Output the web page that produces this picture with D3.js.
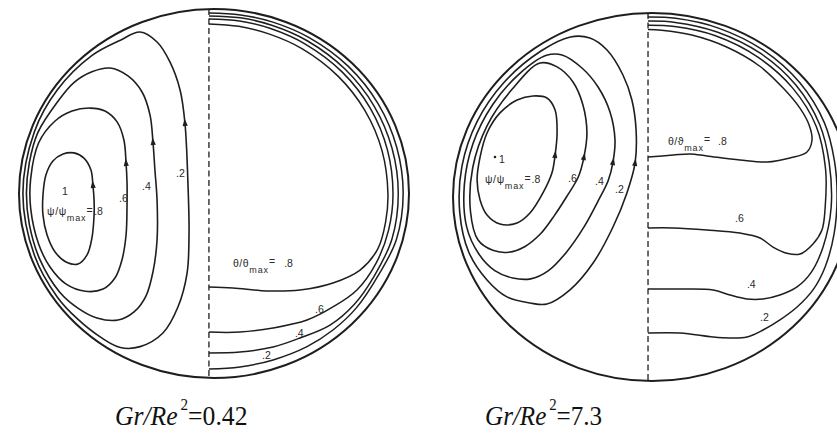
<!DOCTYPE html>
<html>
<head>
<meta charset="utf-8">
<script src="https://cdn.jsdelivr.net/npm/d3@7"></script>
<style>
  html, body { margin: 0; padding: 0; background: #fff; }
  svg { display: block; }
</style>
</head>
<body>
<svg id="chart" width="837" height="441"></svg>
<script>
// Pipe cross-sections, coordinates normalised by the wall radius (x right, y up, wall at r = 1).
// Left half of each section: streamlines psi/psi_max; right half: isotherms theta/theta_max.

const caseValues = ["0.42", "7.3"];
const levelLabels = [".8", ".6", ".4", ".2"];
const symmetryPlane = [-0.026, -0.020];

// ---- Gr/Re² = 0.42 ----
const lowPsi08 = [[-0.621,0.046],[-0.631,0.127],[-0.667,0.192],[-0.718,0.220],[-0.774,0.214],[-0.826,0.176],[-0.862,0.100],[-0.877,-0.008],[-0.877,-0.117],[-0.856,-0.225],[-0.815,-0.317],[-0.759,-0.371],[-0.697,-0.382],[-0.651,-0.333],[-0.626,-0.241],[-0.615,-0.117],[-0.615,-0.035]];
const lowPsi06 = [[-0.451,0.165],[-0.462,0.290],[-0.497,0.388],[-0.559,0.447],[-0.636,0.463],[-0.728,0.447],[-0.815,0.393],[-0.899,0.275],[-0.940,0.082],[-0.940,-0.082],[-0.899,-0.275],[-0.840,-0.400],[-0.760,-0.490],[-0.660,-0.530],[-0.569,-0.518],[-0.508,-0.458],[-0.472,-0.360],[-0.451,-0.225],[-0.446,-0.062],[-0.446,0.057]];
const lowPsi04 = [[-0.313,0.279],[-0.328,0.425],[-0.369,0.550],[-0.441,0.637],[-0.533,0.680],[-0.626,0.660],[-0.720,0.600],[-0.800,0.500],[-0.904,0.329],[-0.947,0.167],[-0.962,0.000],[-0.947,-0.167],[-0.892,-0.360],[-0.792,-0.534],[-0.700,-0.620],[-0.600,-0.675],[-0.492,-0.686],[-0.410,-0.642],[-0.349,-0.556],[-0.313,-0.425],[-0.292,-0.252],[-0.292,-0.035],[-0.303,0.127]];
const lowPsi02 = [[-0.149,0.382],[-0.174,0.561],[-0.226,0.713],[-0.292,0.821],[-0.379,0.875],[-0.480,0.831],[-0.627,0.747],[-0.803,0.562],[-0.921,0.335],[-0.980,0.000],[-0.921,-0.335],[-0.803,-0.562],[-0.700,-0.680],[-0.580,-0.780],[-0.480,-0.835],[-0.379,-0.830],[-0.262,-0.756],[-0.185,-0.615],[-0.138,-0.431],[-0.128,-0.214],[-0.133,0.035]];

const lowTheta08 = [[-0.026,-0.507],[0.097,-0.512],[0.272,-0.528],[0.441,-0.523],[0.610,-0.485],[0.749,-0.415],[0.840,-0.300],[0.880,-0.155],[0.892,0.000],[0.862,0.231],[0.775,0.448],[0.636,0.636],[0.453,0.784],[0.281,0.865],[0.127,0.906],[-0.026,0.919]];
const lowTheta06 = [[-0.026,-0.751],[0.133,-0.751],[0.303,-0.729],[0.477,-0.686],[0.610,-0.615],[0.733,-0.523],[0.830,-0.380],[0.895,-0.200],[0.918,0.000],[0.889,0.238],[0.801,0.463],[0.658,0.658],[0.468,0.810],[0.290,0.894],[0.131,0.935],[-0.026,0.946]];
const lowTheta04 = [[-0.026,-0.864],[0.133,-0.859],[0.303,-0.832],[0.441,-0.783],[0.595,-0.713],[0.720,-0.600],[0.820,-0.450],[0.913,-0.245],[0.945,0.000],[0.913,0.245],[0.821,0.474],[0.673,0.673],[0.478,0.828],[0.296,0.912],[0.134,0.952],[-0.026,0.962]];
const lowTheta02 = [[-0.026,-0.951],[0.133,-0.940],[0.303,-0.902],[0.477,-0.830],[0.610,-0.740],[0.730,-0.620],[0.850,-0.430],[0.935,-0.251],[0.970,0.000],[0.937,0.251],[0.842,0.486],[0.689,0.689],[0.488,0.845],[0.302,0.929],[0.136,0.968],[-0.026,0.978]];

// ---- Gr/Re² = 7.3 ----
const highPsi08 = [[-0.487,0.228],[-0.477,0.348],[-0.487,0.473],[-0.528,0.538],[-0.598,0.549],[-0.678,0.527],[-0.764,0.457],[-0.829,0.348],[-0.864,0.217],[-0.879,0.092],[-0.864,-0.016],[-0.829,-0.098],[-0.764,-0.147],[-0.678,-0.141],[-0.613,-0.087],[-0.548,0.022],[-0.503,0.130]];
const highPsi06 = [[-0.342,0.217],[-0.327,0.348],[-0.347,0.500],[-0.397,0.625],[-0.477,0.707],[-0.563,0.728],[-0.701,0.588],[-0.829,0.387],[-0.901,0.159],[-0.912,-0.080],[-0.874,-0.234],[-0.800,-0.290],[-0.720,-0.300],[-0.640,-0.270],[-0.560,-0.200],[-0.490,-0.100],[-0.430,0.000],[-0.370,0.110]];
const highPsi04 = [[-0.196,0.190],[-0.186,0.310],[-0.211,0.462],[-0.271,0.598],[-0.352,0.701],[-0.452,0.772],[-0.530,0.770],[-0.668,0.668],[-0.801,0.501],[-0.899,0.292],[-0.943,0.066],[-0.931,-0.164],[-0.870,-0.310],[-0.790,-0.400],[-0.700,-0.440],[-0.610,-0.445],[-0.520,-0.400],[-0.430,-0.300],[-0.340,-0.160],[-0.270,-0.020],[-0.220,0.090]];
const highPsi02 = [[-0.085,0.185],[-0.080,0.364],[-0.101,0.527],[-0.146,0.663],[-0.226,0.799],[-0.312,0.864],[-0.410,0.870],[-0.556,0.795],[-0.743,0.624],[-0.879,0.410],[-0.955,0.168],[-0.966,-0.085],[-0.921,-0.299],[-0.829,-0.451],[-0.729,-0.543],[-0.613,-0.576],[-0.528,-0.582],[-0.412,-0.505],[-0.296,-0.359],[-0.196,-0.163],[-0.126,0.022]];

const highTheta08 = [[-0.020,0.217],[0.106,0.228],[0.191,0.234],[0.276,0.223],[0.442,0.201],[0.578,0.190],[0.693,0.212],[0.779,0.245],[0.804,0.310],[0.790,0.390],[0.745,0.480],[0.665,0.585],[0.540,0.712],[0.375,0.815],[0.200,0.880],[0.048,0.906],[-0.020,0.910]];
const highTheta06 = [[-0.020,-0.168],[0.106,-0.168],[0.276,-0.179],[0.442,-0.196],[0.543,-0.223],[0.608,-0.272],[0.678,-0.306],[0.744,-0.310],[0.809,-0.255],[0.854,-0.179],[0.870,-0.060],[0.872,0.154],[0.825,0.385],[0.706,0.593],[0.532,0.760],[0.319,0.876],[0.114,0.926],[-0.020,0.933]];
const highTheta04 = [[-0.020,-0.500],[0.141,-0.500],[0.307,-0.505],[0.392,-0.533],[0.477,-0.554],[0.558,-0.554],[0.643,-0.533],[0.729,-0.489],[0.800,-0.410],[0.860,-0.270],[0.900,-0.060],[0.890,0.189],[0.843,0.393],[0.724,0.607],[0.546,0.780],[0.327,0.897],[0.117,0.949],[-0.020,0.956]];
const highTheta02 = [[-0.020,-0.739],[0.141,-0.739],[0.307,-0.761],[0.392,-0.766],[0.477,-0.761],[0.558,-0.723],[0.643,-0.668],[0.729,-0.598],[0.809,-0.505],[0.870,-0.380],[0.915,-0.200],[0.930,0.000],[0.917,0.195],[0.866,0.404],[0.742,0.622],[0.559,0.798],[0.334,0.918],[0.119,0.971],[-0.020,0.978]];

// ---------------------------------------------------------------------------
const svg = d3.select("#chart");
const ink = "#1e1e1e";
const labelFont = "'Liberation Sans', Arial, sans-serif";

svg.append("rect").attr("width", 837).attr("height", 441).attr("fill", "#fff");

function drawSection(frame, psiCurves, thetaCurves, plane) {
  const g = svg.append("g");
  const x = d3.scaleLinear().domain([-1, 1]).range([frame.cx - frame.rx, frame.cx + frame.rx]);
  const y = d3.scaleLinear().domain([-1, 1]).range([frame.cy + frame.ry, frame.cy - frame.ry]);

  // pipe wall
  g.append("ellipse")
    .attr("cx", x(0)).attr("cy", y(0))
    .attr("rx", x(1) - x(0)).attr("ry", y(-1) - y(0))
    .attr("fill", "none").attr("stroke", ink).attr("stroke-width", 2);

  // vertical symmetry plane
  const h = Math.sqrt(1 - plane * plane);
  g.append("line")
    .attr("x1", x(plane)).attr("x2", x(plane))
    .attr("y1", y(h)).attr("y2", y(-h))
    .attr("stroke", ink).attr("stroke-width", 1.3)
    .attr("stroke-dasharray", "6,3.5");

  const closed = d3.line().x(d => x(d[0])).y(d => y(d[1]))
    .curve(d3.curveCatmullRomClosed.alpha(0.5));
  const open = d3.line().x(d => x(d[0])).y(d => y(d[1]))
    .curve(d3.curveCatmullRom.alpha(0.5));

  // streamlines with flow arrows
  psiCurves.forEach(c => {
    g.append("path").attr("d", closed(c))
      .attr("fill", "none").attr("stroke", ink).attr("stroke-width", 1.6);
    const p0 = [x(c[0][0]), y(c[0][1])];
    const pn = [x(c[1][0]), y(c[1][1])];
    const pp = [x(c[c.length - 1][0]), y(c[c.length - 1][1])];
    let ux = pn[0] - pp[0], uy = pn[1] - pp[1];
    const len = Math.hypot(ux, uy); ux /= len; uy /= len;
    const tip = [p0[0] + ux * 4.5, p0[1] + uy * 4.5];
    const bl = [p0[0] - ux * 3 - uy * 2.6, p0[1] - uy * 3 + ux * 2.6];
    const br = [p0[0] - ux * 3 + uy * 2.6, p0[1] - uy * 3 - ux * 2.6];
    g.append("path").attr("d", `M${tip}L${bl}L${br}Z`).attr("fill", ink);
  });

  // isotherms
  thetaCurves.forEach(c => {
    g.append("path").attr("d", open(c))
      .attr("fill", "none").attr("stroke", ink).attr("stroke-width", 1.5);
  });

  return { g, x, y };
}

function plainLabel(s, nx, ny, text) {
  s.g.append("text").attr("x", s.x(nx)).attr("y", s.y(ny))
    .attr("font-family", labelFont).attr("font-size", 10.5).attr("fill", "#2a2a2a")
    .text(text);
}

function ratioLabel(s, nx, ny, sym, value, gap) {
  const t = s.g.append("text").attr("x", s.x(nx)).attr("y", s.y(ny))
    .attr("font-family", labelFont).attr("font-size", 10.5).attr("fill", "#2a2a2a");
  t.append("tspan").attr("letter-spacing", 0.6).text(sym);
  t.append("tspan").attr("dy", 6).attr("font-size", 9).attr("letter-spacing", 0.9).text("max");
  t.append("tspan").attr("dy", -7.5).text("=");
  t.append("tspan").attr("dy", 1.5).attr("dx", gap).text(value);
}

// ---- left section ----
const low = drawSection({ cx: 214, cy: 193.5, rx: 195, ry: 184.5 },
  [lowPsi08, lowPsi06, lowPsi04, lowPsi02],
  [lowTheta08, lowTheta06, lowTheta04, lowTheta02], symmetryPlane[0]);

plainLabel(low, -0.780, -0.008, "1");
ratioLabel(low, -0.856, -0.117, "ψ/ψ", levelLabels[0], 1.5);
plainLabel(low, -0.487, -0.046, levelLabels[1]);
plainLabel(low, -0.369, 0.019, levelLabels[2]);
plainLabel(low, -0.195, 0.089, levelLabels[3]);
ratioLabel(low, 0.097, -0.398, "θ/θ", levelLabels[0], 9);
plainLabel(low, 0.518, -0.648, levelLabels[1]);
plainLabel(low, 0.415, -0.780, levelLabels[2]);
plainLabel(low, 0.246, -0.897, levelLabels[3]);

// ---- right section ----
const high = drawSection({ cx: 652, cy: 197, rx: 199, ry: 184 },
  [highPsi08, highPsi06, highPsi04, highPsi02],
  [highTheta08, highTheta06, highTheta04, highTheta02], symmetryPlane[1]);

high.g.append("circle").attr("cx", high.x(-0.789)).attr("cy", high.y(0.217)).attr("r", 1.3).attr("fill", ink);
plainLabel(high, -0.769, 0.185, "1");
ratioLabel(high, -0.839, 0.076, "ψ/ψ", levelLabels[0], 1);
plainLabel(high, -0.422, 0.082, levelLabels[1]);
plainLabel(high, -0.286, 0.065, levelLabels[2]);
plainLabel(high, -0.186, 0.022, levelLabels[3]);
ratioLabel(high, 0.080, 0.283, "θ/ϑ", levelLabels[0], 8);
plainLabel(high, 0.417, -0.136, levelLabels[1]);
plainLabel(high, 0.477, -0.495, levelLabels[2]);
plainLabel(high, 0.543, -0.674, levelLabels[3]);

// ---- captions: italic ratio, superscript exponent, upright value ----
function caption(x0, value, squeeze) {
  const t = svg.append("text").attr("y", 425)
    .attr("transform", `translate(${x0},0) scale(${squeeze},1)`)
    .attr("font-family", "'Liberation Serif', 'Times New Roman', serif")
    .attr("font-size", 27).attr("fill", "#111");
  t.append("tspan").attr("x", 0).attr("font-style", "italic").text("Gr/Re");
  t.append("tspan").attr("dy", -15).attr("dx", 3).attr("font-size", 16).text("2");
  t.append("tspan").attr("dy", 15).text("=" + value);
}
caption(115, caseValues[0], 0.95);
caption(485, caseValues[1], 0.93);
</script>
</body>
</html>
